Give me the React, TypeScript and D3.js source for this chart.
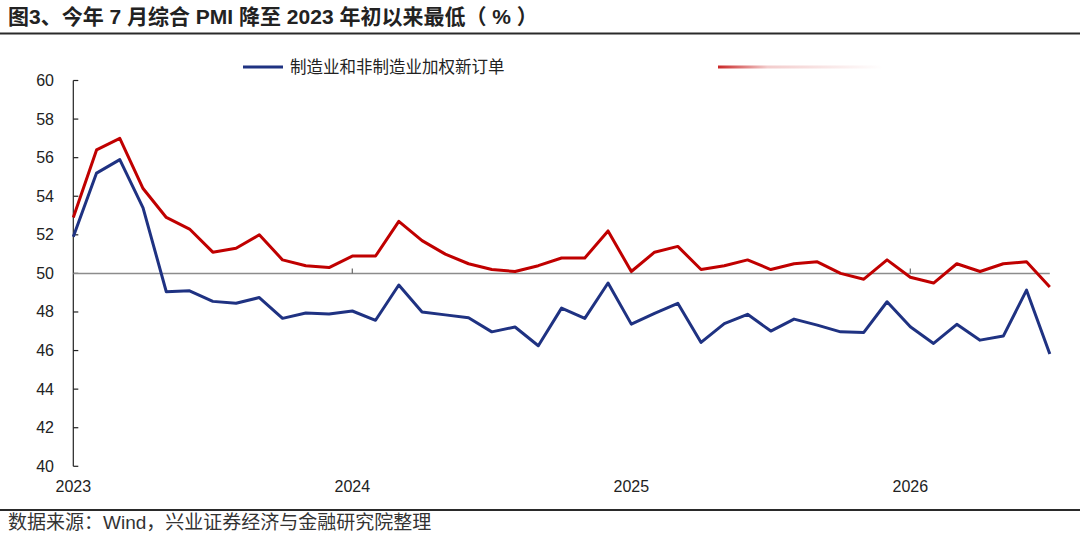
import React from 'react'
import * as d3 from 'd3'

// monthly categories, Jan 2023 .. Jul 2026
const months: string[] = d3
  .timeMonth.range(new Date(2023, 0, 1), new Date(2026, 7, 1))
  .map((d) => d3.timeFormat('%Y-%m')(d))

const yearLabels = ['2023', '2024', '2025', '2026']

// red series (综合 PMI)
const compositePmi = [
  52.9, 56.4, 57.0, 54.4, 52.9, 52.3, 51.1, 51.3, 52.0, 50.7, 50.4, 50.3,
  50.9, 50.9, 52.7, 51.7, 51.0, 50.5, 50.2, 50.1, 50.4, 50.8, 50.8, 52.2,
  50.1, 51.1, 51.4, 50.2, 50.4, 50.7, 50.2, 50.5, 50.6, 50.0, 49.7, 50.7,
  49.8, 49.5, 50.5, 50.1, 50.5, 50.6, 49.3,
]

// blue series (制造业和非制造业加权新订单)
const weightedNewOrders = [
  51.9, 55.2, 55.9, 53.4, 49.05, 49.1, 48.55, 48.45, 48.75, 47.67, 47.95, 47.9,
  48.05, 47.57, 49.4, 48.0, 47.85, 47.7, 46.97, 47.22, 46.25, 48.2, 47.67, 49.5,
  47.37, 47.93, 48.45, 46.42, 47.4, 47.88, 47.01, 47.63, 47.32, 46.97, 46.94, 48.53,
  47.23, 46.37, 47.36, 46.54, 46.75, 49.13, 45.82,
]

const yTicks = [40, 42, 44, 46, 48, 50, 52, 54, 56, 58, 60]

const W = 1080
const H = 536
const FONT = '"Liberation Sans", Arial, "Noto Sans CJK SC", sans-serif'
const BLUE = '#1f3282'
const RED = '#c00000'
const TEXT = '#222'

export default function App() {
  const x = d3.scalePoint<string>().domain(months).range([73.3, 1049.8])
  const y = d3.scaleLinear().domain([40, 60]).range([466.3, 80.5])

  const line = d3
    .line<number>()
    .x((_d, i) => x(months[i]) as number)
    .y((d) => y(d))

  const yearX = (yr: string) => x(`${yr}-01`) as number
  const x0 = x.range()[0]
  const x1 = x.range()[1]

  return (
    <svg
      width={W}
      height={H}
      style={{ position: 'absolute', left: 0, top: 0, background: '#fff' }}
      fontFamily={FONT}
    >
      <defs>
        <linearGradient id="fade" x1="0" x2="1" y1="0" y2="0">
          <stop offset="0" stopColor={RED} stopOpacity={0.85} />
          <stop offset="0.3" stopColor={RED} stopOpacity={0.2} />
          <stop offset="1" stopColor={RED} stopOpacity={0} />
        </linearGradient>
      </defs>

      {/* title */}
      <text x={8} y={24} fontSize={21} fontWeight="bold" fill={TEXT}>
        图3、今年 7 月综合 PMI 降至 2023 年初以来最低（ % ）
      </text>
      <line x1={0} x2={W} y1={33.5} y2={33.5} stroke="#2a2a2a" strokeWidth={2} />

      {/* legend */}
      <line x1={243} x2={283} y1={67} y2={67} stroke={BLUE} strokeWidth={3} />
      <text x={290} y={73} fontSize={16.5} fill={TEXT}>
        制造业和非制造业加权新订单
      </text>
      <rect x={718} y={65.5} width={165} height={3} fill="url(#fade)" />

      {/* y axis */}
      <line x1={x0} x2={x0} y1={y(60)} y2={y(40)} stroke="#222" strokeWidth={1.2} />
      {yTicks.map((t) => (
        <g key={t}>
          <line x1={x0} x2={x0 + 5} y1={y(t)} y2={y(t)} stroke="#222" strokeWidth={1.2} />
          <text x={54} y={y(t) + 5.5} fontSize={16} textAnchor="end" fill={TEXT}>
            {t}
          </text>
        </g>
      ))}

      {/* 50 reference line with year ticks */}
      <line x1={x0} x2={x1} y1={y(50)} y2={y(50)} stroke="#8c8c8c" strokeWidth={1.5} />
      {yearLabels.slice(1).map((yr) => (
        <line
          key={yr}
          x1={yearX(yr)}
          x2={yearX(yr)}
          y1={y(50)}
          y2={y(50) - 5}
          stroke="#666"
          strokeWidth={1.2}
        />
      ))}
      {yearLabels.map((yr) => (
        <text key={yr} x={yearX(yr)} y={492} fontSize={16} textAnchor="middle" fill={TEXT}>
          {yr}
        </text>
      ))}

      {/* series */}
      <path d={line(compositePmi) ?? ''} fill="none" stroke={RED} strokeWidth={3} strokeLinejoin="round" />
      <path
        d={line(weightedNewOrders) ?? ''}
        fill="none"
        stroke={BLUE}
        strokeWidth={3}
        strokeLinejoin="round"
      />

      {/* footer */}
      <line x1={0} x2={W} y1={510} y2={510} stroke="#2a2a2a" strokeWidth={2} />
      <text x={8} y={529} fontSize={19} fill="#333">
        数据来源：Wind，兴业证券经济与金融研究院整理
      </text>
    </svg>
  )
}
